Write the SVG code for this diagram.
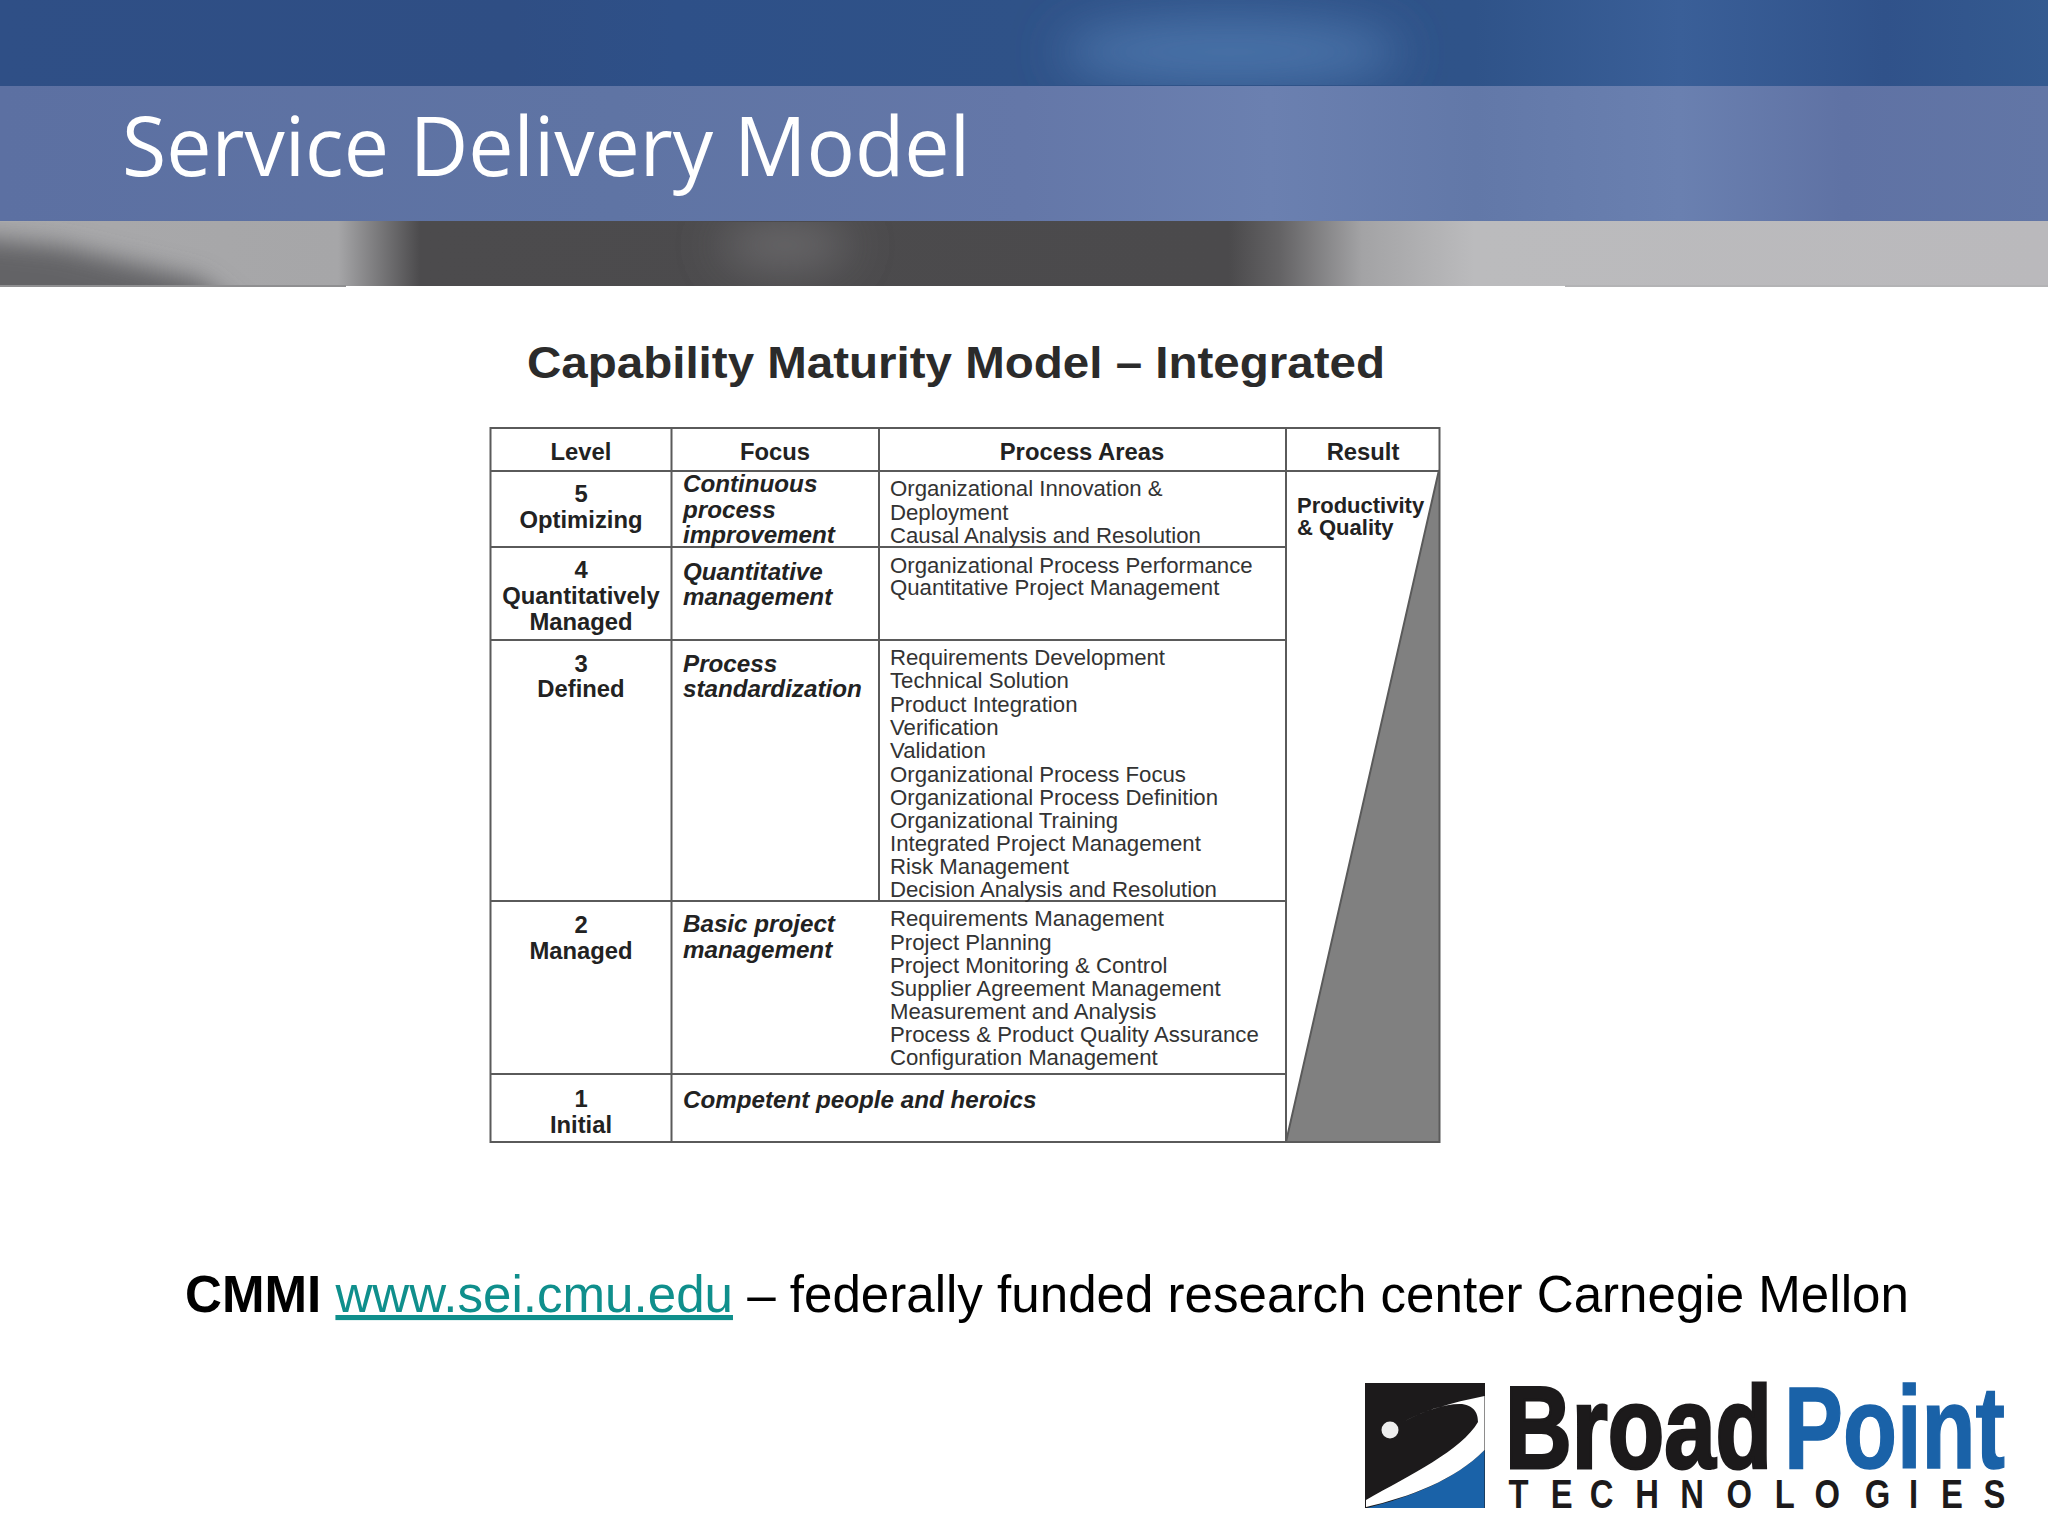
<svg xmlns="http://www.w3.org/2000/svg" width="2048" height="1536" viewBox="0 0 2048 1536">
<defs>
<linearGradient id="gTop" x1="0" x2="1" y1="0" y2="0">
<stop offset="0" stop-color="#2f4f86"/><stop offset=".25" stop-color="#2f4e84"/><stop offset=".33" stop-color="#2e5088"/><stop offset=".5" stop-color="#2f5288"/><stop offset=".72" stop-color="#2f5389"/><stop offset=".82" stop-color="#3a5f98"/><stop offset=".92" stop-color="#30528a"/><stop offset="1" stop-color="#345a90"/>
</linearGradient>
<linearGradient id="gMid" x1="0" x2="1" y1="0" y2="0">
<stop offset="0" stop-color="#5c70a2"/><stop offset=".3" stop-color="#5f74a4"/><stop offset=".5" stop-color="#6477a8"/><stop offset=".62" stop-color="#6b80b0"/><stop offset=".72" stop-color="#6278a8"/><stop offset=".82" stop-color="#6a80b0"/><stop offset=".9" stop-color="#5f72a4"/><stop offset="1" stop-color="#6276a6"/>
</linearGradient>
<linearGradient id="gBand" x1="0" x2="1" y1="0" y2="0">
<stop offset="0" stop-color="#a9a9ab"/><stop offset=".165" stop-color="#a6a6a8"/><stop offset=".205" stop-color="#4c4b4d"/><stop offset=".6" stop-color="#4b4a4c"/><stop offset=".625" stop-color="#646365"/><stop offset=".665" stop-color="#a3a3a5"/><stop offset=".72" stop-color="#bbbbbd"/><stop offset="1" stop-color="#bab9bc"/>
</linearGradient>
<filter id="blur" x="-50%" y="-150%" width="200%" height="400%"><feGaussianBlur stdDeviation="24"/></filter>
<filter id="blurS" x="-30%" y="-60%" width="160%" height="220%"><feGaussianBlur stdDeviation="12"/></filter>
<clipPath id="bandClip"><rect x="0" y="222" width="2048" height="64"/></clipPath>
<clipPath id="topClip"><rect x="0" y="0" width="2048" height="85"/></clipPath>
<style>
.lv{font:bold 23.8px "Liberation Sans",Arial,sans-serif;fill:#222;text-anchor:middle}
.rs{font:bold 22px "Liberation Sans",Arial,sans-serif;fill:#222}
.fc{font:italic bold 24.2px "Liberation Sans",Arial,sans-serif;fill:#222}
.pa{font:22.2px "Liberation Sans",Arial,sans-serif;fill:#333}
.gl{stroke:#5a5a5a;stroke-width:2;fill:none}
.logo{font-family:"Liberation Sans",Arial,sans-serif;font-weight:bold}
</style>
</defs>

<g id="header">
<rect x="0" y="0" width="2048" height="86" fill="url(#gTop)"/>
<g clip-path="url(#topClip)"><ellipse cx="1230" cy="52" rx="170" ry="34" fill="#4a72a8" filter="url(#blur)"/></g>
<rect x="0" y="86" width="2048" height="136" fill="url(#gMid)"/>
<rect x="0" y="221" width="2048" height="65" fill="url(#gBand)"/>
<g clip-path="url(#bandClip)">
<path d="M-40 236L60 246L200 280L250 320L-40 320Z" fill="#646466" filter="url(#blurS)"/>
<ellipse cx="785" cy="245" rx="65" ry="22" fill="#6e6d6f" filter="url(#blur)"/>
</g>
<rect x="1565" y="285" width="483" height="2" fill="#b3b3b5"/>
<rect x="0" y="285" width="346" height="2" fill="#8f8f91"/>
<text x="122" y="176" font-family="'Open Sans','Noto Sans',sans-serif" font-size="82" fill="#fff" textLength="848" lengthAdjust="spacingAndGlyphs">Service Delivery Model</text>
</g>

<g id="table-title">
<text x="527" y="378" font-family="'Liberation Sans',Arial,sans-serif" font-weight="bold" font-size="44" fill="#2b2b2b" textLength="858" lengthAdjust="spacingAndGlyphs">Capability Maturity Model – Integrated</text>
</g>

<g id="table">
<polygon points="1286,1142 1439,1142 1439,470" fill="#808080"/>
<rect class="gl" x="490.500" y="428" width="949" height="714"/>
<path class="gl" d="M671.500 428V1142M879 428V901M1286 428V1142M1286 1142L1439 470M490 471H1439M490 547H1286M490 640H1286M490 901H1286M490 1074H1286"/>
</g>

<g id="col-level">
<text class="lv" x="581" y="460">Level</text>
<text class="lv" x="581" y="502">5</text><text class="lv" x="581" y="528">Optimizing</text>
<text class="lv" x="581" y="578">4</text><text class="lv" x="581" y="604">Quantitatively</text><text class="lv" x="581" y="630">Managed</text>
<text class="lv" x="581" y="672">3</text><text class="lv" x="581" y="697">Defined</text>
<text class="lv" x="581" y="933">2</text><text class="lv" x="581" y="959">Managed</text>
<text class="lv" x="581" y="1107">1</text><text class="lv" x="581" y="1133">Initial</text>
</g>

<g id="col-focus">
<text class="lv" x="775" y="460">Focus</text>
<text class="fc" x="683" y="492">Continuous</text><text class="fc" x="683" y="518">process</text><text class="fc" x="683" y="543">improvement</text>
<text class="fc" x="683" y="580">Quantitative</text><text class="fc" x="683" y="605">management</text>
<text class="fc" x="683" y="672">Process</text><text class="fc" x="683" y="697">standardization</text>
<text class="fc" x="683" y="932">Basic project</text><text class="fc" x="683" y="958">management</text>
<text class="fc" x="683" y="1108">Competent people and heroics</text>
</g>

<g id="col-process">
<text class="lv" x="1082" y="460">Process Areas</text>
<text class="pa" x="890" y="496">Organizational Innovation &amp;</text>
<text class="pa" x="890" y="520">Deployment</text>
<text class="pa" x="890" y="543">Causal Analysis and Resolution</text>
<text class="pa" x="890" y="573">Organizational Process Performance</text>
<text class="pa" x="890" y="595">Quantitative Project Management</text>
<text class="pa" x="890" y="665">Requirements Development</text>
<text class="pa" x="890" y="688">Technical Solution</text>
<text class="pa" x="890" y="712">Product Integration</text>
<text class="pa" x="890" y="735">Verification</text>
<text class="pa" x="890" y="758">Validation</text>
<text class="pa" x="890" y="782">Organizational Process Focus</text>
<text class="pa" x="890" y="805">Organizational Process Definition</text>
<text class="pa" x="890" y="828">Organizational Training</text>
<text class="pa" x="890" y="851">Integrated Project Management</text>
<text class="pa" x="890" y="874">Risk Management</text>
<text class="pa" x="890" y="897">Decision Analysis and Resolution</text>
<text class="pa" x="890" y="926">Requirements Management</text>
<text class="pa" x="890" y="950">Project Planning</text>
<text class="pa" x="890" y="973">Project Monitoring &amp; Control</text>
<text class="pa" x="890" y="996">Supplier Agreement Management</text>
<text class="pa" x="890" y="1019">Measurement and Analysis</text>
<text class="pa" x="890" y="1042">Process &amp; Product Quality Assurance</text>
<text class="pa" x="890" y="1065">Configuration Management</text>
</g>

<g id="col-result">
<text class="lv" x="1363" y="460">Result</text>
<text class="rs" x="1297" y="513">Productivity</text>
<text class="rs" x="1297" y="535">&amp; Quality</text>
</g>

<g id="caption">
<text x="185" y="1312" font-family="'Liberation Sans',Arial,sans-serif" font-size="51.100" fill="#000"><tspan font-weight="bold">CMMI</tspan> <tspan fill="#0f8f8c" text-decoration="underline">www.sei.cmu.edu</tspan> – federally funded research center Carnegie Mellon</text>
</g>

<g id="logo">
<rect x="1365" y="1383" width="120" height="125" fill="#1c1a1b"/>
<path d="M1367 1508C1410 1497 1455 1480 1484.500 1450V1508Z" fill="#1a62a8"/>
<path d="M1484.500 1396C1450 1403 1425 1410 1403 1422C1425 1410 1448 1403 1462 1404C1475 1406 1478 1414 1478 1422C1462 1450 1410 1475 1366 1500L1366 1507C1410 1497 1455 1480 1484.500 1450Z" fill="#fff"/>
<circle cx="1390" cy="1430" r="8.500" fill="#eee"/>
<text class="logo" transform="translate(1505 1468) scale(.79 1)" font-size="117" fill="#1c1a1b" stroke="#1c1a1b" stroke-width="3">Broad</text>
<text class="logo" transform="translate(1784 1468) scale(.756 1)" font-size="117" fill="#1a62a8" stroke="#1a62a8" stroke-width="1.500">Point</text>
<text class="logo" transform="translate(1340 1508) scale(.8 1)" x="223 277 327 384 440 499 556 609 672 717 765 818" text-anchor="middle" font-size="41" fill="#1c1a1b">TECHNOLOGIES</text>
</g>
</svg>
